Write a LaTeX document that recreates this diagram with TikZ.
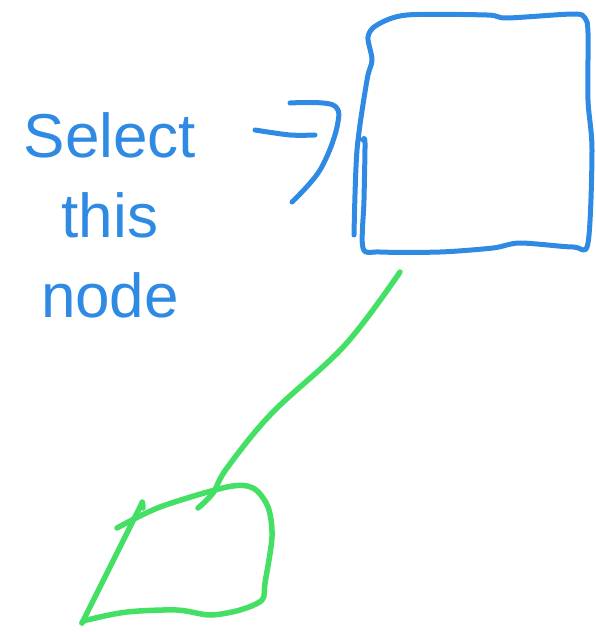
\documentclass[tikz,border=0pt]{standalone}
\usepackage{fontspec}
\setmainfont{Liberation Sans}
\definecolor{penblue}{HTML}{2E8AE2}
\definecolor{pengreen}{HTML}{44E066}
\tikzset{
  bluestroke/.style={draw=penblue, line width=5pt, line cap=round, line join=round},
  greenstroke/.style={draw=pengreen, line width=5.5pt, line cap=round, line join=round},
  handtext/.style={text=penblue, font=\fontsize{62}{80}\selectfont, align=center, inner sep=0pt}
}
\begin{document}
\begin{tikzpicture}[x=1pt, y=-1pt]
\useasboundingbox (0,0) rectangle (595,632);
% label
\node[handtext, anchor=north] (label) at (110,112) {Select\\this\\node};
% box
\coordinate (boxtop) at (478,15);
\draw[bluestroke] plot[smooth, tension=0.5] coordinates {
  (354,235) (357,150) (367,80) (372,60) (368,37) (377,25) (407,15) (487,15)
  (507,18) (573,14) (585,18) (588,33) (588,100) (592,150) (588,243)
  (573,247) (520,243) (493,248) (440,252) (380,252) (363,248) (364,200)
  (365,143) (363,140)};
% arrow
\coordinate (arrowstart) at (255,130);
\coordinate (arrowhook) at (290,103);
\draw[bluestroke] plot[smooth, tension=0.5] coordinates {(arrowstart) (290,135) (315,135)};
\draw[bluestroke] plot[smooth, tension=0.6] coordinates {(arrowhook) (333,105) (337,127) (320,170) (292,202)};
% connector
\coordinate (boxbottom) at (400,272);
\draw[greenstroke] plot[smooth, tension=0.6] coordinates {(boxbottom) (345,345) (272,413) (227,468) (213,493) (198,508)};
% green shape
\draw[greenstroke] plot[smooth, tension=0.5] coordinates {
  (117,528) (160,507) (227,487) (253,488) (268,507) (272,537) (265,583)
  (262,600) (240,610) (210,615) (177,610) (127,612) (87,620) (82,623)};
\draw[greenstroke] plot[smooth, tension=0.5] coordinates {(82,623) (137,513) (142,503) (143,508)};
\end{tikzpicture}
\end{document}
